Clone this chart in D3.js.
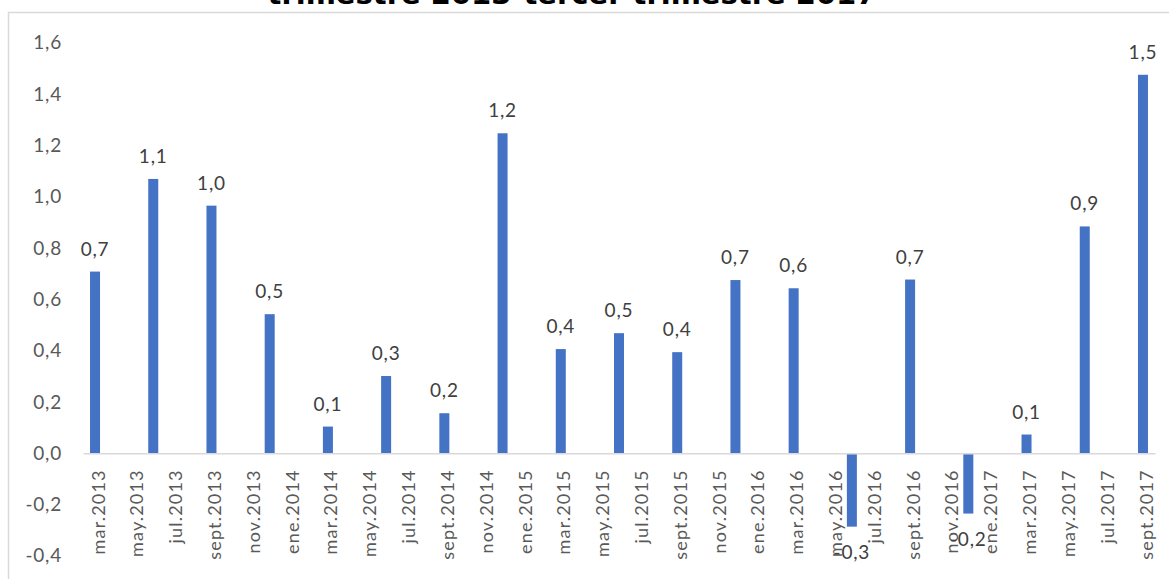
<!DOCTYPE html>
<html>
<head>
<meta charset="utf-8">
<script src="https://cdn.jsdelivr.net/npm/d3@7"></script>
<style>
  html, body { margin: 0; padding: 0; background: #fff; }
  svg { display: block; }
</style>
</head>
<body>
<svg id="chart" width="1169" height="579"></svg>
<script>
// Quarterly values (period end month) and their bar heights
const periods = ["2013-03","2013-06","2013-09","2013-12","2014-03","2014-06","2014-09","2014-12",
                 "2015-03","2015-06","2015-09","2015-12","2016-03","2016-06","2016-09","2016-12",
                 "2017-03","2017-06","2017-09"];
const values = [0.708, 1.069, 0.965, 0.542, 0.104, 0.301, 0.156, 1.247,
                0.406, 0.468, 0.394, 0.675, 0.643, -0.286, 0.677, -0.235,
                0.073, 0.884, 1.475];

// Bimonthly category labels along the date axis
const tickLabels = ["mar.2013","may.2013","jul.2013","sept.2013","nov.2013",
                    "ene.2014","mar.2014","may.2014","jul.2014","sept.2014","nov.2014",
                    "ene.2015","mar.2015","may.2015","jul.2015","sept.2015","nov.2015",
                    "ene.2016","mar.2016","may.2016","jul.2016","sept.2016","nov.2016",
                    "ene.2017","mar.2017","may.2017","jul.2017","sept.2017"];
const yTicks = [-0.4, -0.2, 0, 0.2, 0.4, 0.6, 0.8, 1.0, 1.2, 1.4, 1.6];
const title = "trimestre 2013-tercer trimestre 2017";

const monthNum = {ene:1, feb:2, mar:3, abr:4, may:5, jun:6, jul:7, ago:8, sept:9, oct:10, nov:11, dic:12};
const startYear = 2013, startMonth = 3;
const idxFromPeriod = p => { const [y, m] = p.split("-").map(Number); return (y - startYear) * 12 + (m - startMonth); };
const idxFromLabel = l => { const [mo, y] = l.split("."); return (+y - startYear) * 12 + (monthNum[mo] - startMonth); };

const es = d3.formatLocale({decimal: ",", thousands: ".", grouping: [3], currency: ["", ""], minus: "-"});
const fmt = es.format(".1f");

const svg = d3.select("#chart");
const font = "Lato, 'Open Sans', sans-serif";

// Chart frame
svg.append("rect")
  .attr("x", 8.5).attr("y", 12.5).attr("width", 1200).attr("height", 600)
  .attr("fill", "none").attr("stroke", "#d9d9d9").attr("stroke-width", 1.5);

// Title (top of the chart area)
svg.append("text")
  .attr("x", 572).attr("y", 4)
  .attr("text-anchor", "middle")
  .attr("font-family", "'DejaVu Sans', sans-serif")
  .attr("font-weight", "bold")
  .attr("font-size", 29)
  .attr("fill", "#000")
  .text(title);

const lastIdx = idxFromLabel(tickLabels[tickLabels.length - 1]);
const x = d3.scaleLinear().domain([-0.62, lastIdx + 0.62]).range([83, 1155]);
const y = d3.scaleLinear().domain([-0.4, 1.6]).range([555.9, 42.7]);

// Y axis labels
const yAxis = d3.axisLeft(y).tickValues(yTicks).tickSize(0).tickPadding(21).tickFormat(fmt);
const gy = svg.append("g").attr("transform", `translate(${x.range()[0]},0)`).call(yAxis);
gy.select(".domain").remove();
gy.selectAll("text")
  .attr("font-family", font).attr("font-size", 19).attr("fill", "#595959")
  .attr("letter-spacing", 0.8);

// Bars
const barW = 10;
svg.append("g").selectAll("rect")
  .data(values)
  .join("rect")
  .attr("x", (d, i) => x(idxFromPeriod(periods[i])) - barW / 2)
  .attr("y", d => y(Math.max(0, d)))
  .attr("width", barW)
  .attr("height", d => Math.abs(y(d) - y(0)))
  .attr("fill", "#4472c4");

// Zero line / category axis
const xAxis = d3.axisBottom(x)
  .tickValues(tickLabels.map(idxFromLabel))
  .tickSize(0)
  .tickFormat((d, i) => tickLabels[i]);
const gx = svg.append("g").attr("transform", `translate(0,${y(0)})`).call(xAxis);
gx.select(".domain").attr("stroke", "#d9d9d9").attr("stroke-width", 1.5);
gx.selectAll("text")
  .attr("font-family", font).attr("font-size", 18).attr("fill", "#595959")
  .attr("letter-spacing", 1.2)
  .attr("text-anchor", "end")
  .attr("transform", "rotate(-90)")
  .attr("x", -16).attr("y", 0).attr("dy", "0.42em");
gx.selectAll(".tick").attr("transform", d => `translate(${x(d) + 2},0)`);

// Value labels
svg.append("g").selectAll("text")
  .data(values)
  .join("text")
  .attr("x", (d, i) => x(idxFromPeriod(periods[i])))
  .attr("y", d => d >= 0 ? y(d) - 16 : y(d) + 32)
  .attr("text-anchor", "middle")
  .attr("font-family", font).attr("font-size", 19).attr("fill", "#404040")
  .attr("letter-spacing", 0.8)
  .text(d => fmt(d));
</script>
</body>
</html>
